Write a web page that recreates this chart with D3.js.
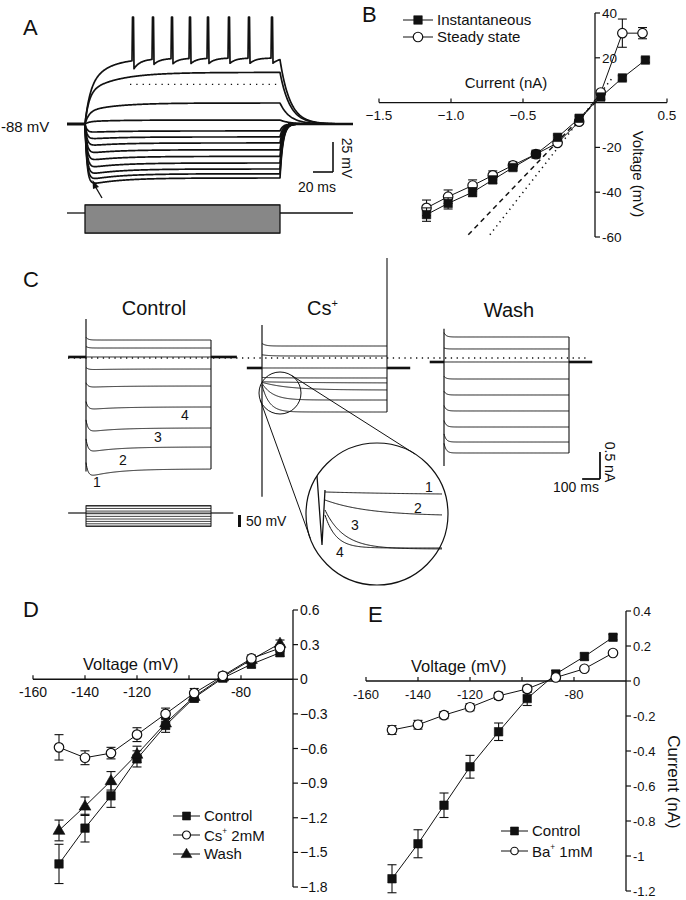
<!DOCTYPE html>
<html>
<head>
<meta charset="utf-8">
<script src="https://cdn.jsdelivr.net/npm/d3@7"></script>
<style>
  body { margin: 0; background: #fff; }
  svg { display: block; font-family: "Liberation Sans", Arial, Helvetica, sans-serif; }
  .ink { stroke: #111; fill: none; }
  text { fill: #111; }
</style>
</head>
<body>
<svg id="fig" width="686" height="900"></svg>
<script>
// ── Panel A: current-clamp steps ─────────────────────────────────────────
const aRestMv = -88;
const aPulseMs = 195;
const aStepMv = [-45, -70.5, -84.7, -93.8, -98.8, -103.8, -109.5, -115, -120.5, -125.5, -129.5, -133];
const aSagMv = [0, 0, 0, 1, 1.5, 2, 2.5, 3, 3.5, 4, 4.5, 5];
const aPlateauMv = -33;
const aSpikeMs = [48, 68, 87, 105, 123, 144, 164, 187];
const aAhpMv = [8, 5, 5, 5, 5, 5, 5, 5];
const aSpikePeakMv = 1;
const aDottedMv = -55;
const aCmdNa = [0.4, 0.3, 0.2, 0.1, -0.1, -0.2, -0.3, -0.4, -0.5, -0.6, -0.7, -0.8, -0.9, -1.0];

// ── Panel B: V–I relation ────────────────────────────────────────────────
const bInstNa = [-1.17, -1.02, -0.85, -0.71, -0.57, -0.41, -0.26, -0.11, 0.04, 0.19, 0.35];
const bInstMv = [-50, -45, -40, -34.5, -29, -23, -15.5, -7, 2.5, 11, 19];
const bInstErr = [3, 2.5, 2, 1.5, 1.2, 1, 1, 1, 1, 1, 1];
const bSteadyNa = [-1.17, -1.02, -0.85, -0.71, -0.57, -0.41, -0.26, -0.11, 0.04, 0.19, 0.33];
const bSteadyMv = [-47, -42, -37, -32.5, -28, -23, -18, -8.5, 4.5, 31, 31];
const bSteadyErr = [3.5, 3, 2.5, 2, 1.5, 1, 1, 1, 1, 6.3, 2.5];
const bDashed = [[-0.88, -59], [0.06, 4]];
const bDotted = [[-0.73, -59], [0.12, 11]];
const bXTicks = [-1.5, -1.0, -0.5, 0.5];
const bYTicks = [40, 20, -20, -40, -60];

// ── Panel C: voltage-clamp currents ─────────────────────────────────────
const cHoldNa = [0.019, -0.185, -0.074];
const cCapTopNa = [0.72, 0.61, 0.54];
const cCapBottomNa = [-2.1, -2.57, -2.0];
const cCsOffSpikeNa = 1.85;
const cCtrlNa = [0.333, 0.185, 0.019, -0.204, -0.519, -0.907, -1.296, -1.648, -2.056];
const cCtrlHookNa = [0.05, 0.03, 0, 0.03, 0.06, 0.1, 0.15, 0.15, 0.12];
const cCtrlDipNa = [0, 0, 0, 0.01, 0.02, 0.04, 0.06, 0.08, 0.12];
const cCsNa = [0.222, 0.037, -0.185, -0.37, -0.463, -0.593, -0.778, -1.0];
const cCsStartNa = [0.27, 0.06, -0.185, -0.36, -0.44, -0.45, -0.47, -0.5];
const cCsTauMs = [20, 40, 50, 100, 300, 150, 60, 40];
const cWashNa = [0.389, 0.167, -0.074, -0.389, -0.685, -0.981, -1.278, -1.556, -1.759];
const cWashHookNa = [0.08, 0.02, 0, 0.05, 0.07, 0.1, 0.12, 0.15, 0.18];
const cCmdMv = [-65, -76, -87, -98, -109, -120, -130, -140, -150];
const cHoldMv = -95;
const cCtrlLabels = ["1", "2", "3", "4"];
const insetStartNa = [-0.45, -0.53, -0.63, -0.68];
const insetEndNa = [-0.48, -0.69, -1.02, -1.01];
const insetTauMs = [200, 80, 35, 20];

// ── Panels D and E: I–V relations ───────────────────────────────────────
const ivVoltsMv = [-150, -140, -130, -120, -109, -98, -87, -76, -65];
const ivXTicks = [-160, -140, -120, -100, -80];
const ivXLabels = [-160, -140, -120, -80];
const dControlNa = [-1.60, -1.29, -1.01, -0.69, -0.40, -0.16, 0.01, 0.13, 0.23];
const dControlErr = [0.17, 0.12, 0.10, 0.07, 0.06, 0.04, 0.03, 0.03, 0.03];
const dCsNa = [-0.59, -0.68, -0.64, -0.48, -0.30, -0.12, 0.03, 0.18, 0.27];
const dCsErr = [0.11, 0.06, 0.05, 0.06, 0.05, 0.04, 0.03, 0.03, 0.03];
const dWashNa = [-1.31, -1.10, -0.88, -0.65, -0.38, -0.15, 0.02, 0.17, 0.31];
const dWashErr = [0.09, 0.08, 0.08, 0.07, 0.05, 0.04, 0.03, 0.03, 0.03];
const dYTicks = [0.6, 0.3, 0, -0.3, -0.6, -0.9, -1.2, -1.5, -1.8];
const eControlNa = [-1.13, -0.93, -0.71, -0.49, -0.29, -0.10, 0.04, 0.14, 0.25];
const eControlErr = [0.08, 0.08, 0.07, 0.065, 0.05, 0.04, 0.02, 0.02, 0.015];
const eBaNa = [-0.28, -0.25, -0.195, -0.15, -0.085, -0.045, 0.02, 0.07, 0.16];
const eBaErr = [0.025, 0.025, 0.02, 0.02, 0.02, 0.02, 0.01, 0.01, 0.01];
const eYTicks = [0.4, 0.2, 0, -0.2, -0.4, -0.6, -0.8, -1, -1.2];

const svg = d3.select('#fig');
const ink = '#111';

function label(g, x, y, str, size, opts) {
  opts = opts || {};
  const t = g.append('text').attr('x', x).attr('y', y)
    .attr('font-size', size)
    .attr('text-anchor', opts.anchor || 'start')
    .text(str);
  if (opts.rotate) t.attr('transform', `rotate(90,${x},${y})`);
  if (opts.family) t.attr('font-family', opts.family);
  return t;
}

// label with a small superscript "+" after the first part
function supLabel(g, x, y, a, b, size, opts) {
  opts = opts || {};
  const t = g.append('text').attr('x', x).attr('y', y).attr('font-size', size)
    .attr('text-anchor', opts.anchor || 'start');
  if (opts.family) t.attr('font-family', opts.family);
  t.append('tspan').text(a);
  t.append('tspan').attr('font-size', size * 0.55).attr('dy', -size * 0.42).text('+');
  t.append('tspan').attr('dy', size * 0.42).text(b);
  return t;
}

function seg(g, x1, y1, x2, y2, w) {
  return g.append('line').attr('x1', x1).attr('y1', y1).attr('x2', x2).attr('y2', y2)
    .attr('stroke', ink).attr('stroke-width', w || 1);
}

// ═══════════════════════════ Panel A ══════════════════════════════════════
(function () {
  const g = svg.append('g');
  const x = d3.scaleLinear().domain([0, aPulseMs]).range([85, 280]);
  const y = d3.scaleLinear().domain([aRestMv, aRestMv + 25]).range([124, 94]);
  const line = d3.line().x(d => x(d[0])).y(d => y(d[1]));
  const times = d3.range(-18, 268.01, 0.5);

  function stepTrace(vss, sag) {
    const d = vss - aRestMv;
    const level = t => d > 0
      ? aRestMv + d * (1 - 0.6 * Math.exp(-t / 4) - 0.4 * Math.exp(-t / 30))
      : aRestMv + d * (1 - Math.exp(-t / 2)) - sag * (Math.exp(-t / 30) - Math.exp(-t / 2)) / 0.77;
    const vEnd = level(aPulseMs);
    return times.map(t => {
      if (t < 0) return [t, aRestMv];
      if (t <= aPulseMs) return [t, level(t)];
      return [t, aRestMv + (vEnd - aRestMv) * Math.exp(-(t - aPulseMs) / (d > 0 ? 10 : 3))];
    });
  }

  function spikeTrace() {
    const d = aPlateauMv - aRestMv;
    return times.map(t => {
      if (t < 0) return [t, aRestMv];
      const tt = Math.min(t, aPulseMs);
      let v = aRestMv + d * (1 - 0.55 * Math.exp(-tt / 5) - 0.45 * Math.exp(-tt / 20));
      aSpikeMs.forEach((ts, i) => { if (tt > ts) v -= aAhpMv[i] * Math.exp(-(tt - ts) / 6); });
      if (aSpikeMs.some(ts => Math.abs(t - ts) < 0.6)) v = aSpikePeakMv;
      if (t > aPulseMs) v = aRestMv + (v - aRestMv) * Math.exp(-(t - aPulseMs) / 10);
      return [t, v];
    });
  }

  const traces = [spikeTrace()].concat(aStepMv.map((v, i) => stepTrace(v, aSagMv[i])));
  g.selectAll('path.trace').data(traces).join('path')
    .attr('class', 'trace ink')
    .attr('stroke-width', 1.7)
    .attr('stroke-linejoin', 'round')
    .attr('d', line);

  // thick noisy holding segments
  seg(g, x(-18), y(aRestMv), x(0), y(aRestMv), 3);
  seg(g, x(aPulseMs + 8), y(aRestMv), x(268), y(aRestMv), 2.6);

  // dotted reference line
  seg(g, x(45), y(aDottedMv), x(192), y(aDottedMv), 1.3).attr('stroke-dasharray', '1.3 5');

  // command pulses
  const cy = d3.scaleLinear().domain([0, 0.4]).range([213, 205]);
  seg(g, x(-18), cy(0), x(0), cy(0), 1.3);
  seg(g, x(aPulseMs), cy(0), x(268), cy(0), 1.3);
  g.append('rect').attr('x', x(0)).attr('y', cy(0.4)).attr('width', x(aPulseMs) - x(0))
    .attr('height', cy(-1.0) - cy(0.4)).attr('class', 'ink').attr('stroke-width', 1.3);
  g.selectAll('line.cmd').data(aCmdNa.concat([0])).join('line')
    .attr('class', 'cmd').attr('stroke', ink).attr('stroke-width', 1.15)
    .attr('x1', x(0)).attr('x2', x(aPulseMs))
    .attr('y1', d => cy(d)).attr('y2', d => cy(d));

  // arrow to the sag
  seg(g, 102, 198, 95, 186, 1.3);
  g.append('path').attr('d', 'M92.5,180 L99,187 L93,189 Z').attr('fill', ink);

  // scale bar: 25 mV / 20 ms
  const sx = 333, sy = 172;
  seg(g, sx, sy, sx, sy - (y(aRestMv) - y(aRestMv + 25)), 1.6);
  seg(g, sx - (x(20) - x(0)), sy, sx, sy, 1.6);
  label(g, 342, 158, '25 mV', 14, { anchor: 'middle', rotate: true });
  label(g, 336, 192, '20 ms', 14, { anchor: 'end' });
  label(g, 1, 132, '-88 mV', 15);
  label(g, 23, 35, 'A', 22);
})();

// ═══════════════════════════ Panel B ══════════════════════════════════════
(function () {
  const g = svg.append('g');
  const x = d3.scaleLinear().domain([-1.5, 0.5]).range([379, 667]);
  const y = d3.scaleLinear().domain([-60, 40]).range([237, 13]);

  // axes
  seg(g, x(-1.5), y(0), x(0.5), y(0), 1.3);
  g.selectAll('line.xt').data(bXTicks).join('line').attr('class', 'xt')
    .attr('stroke', ink).attr('stroke-width', 1.2)
    .attr('x1', d => x(d)).attr('x2', d => x(d)).attr('y1', y(0)).attr('y2', y(0) - 4);
  g.selectAll('text.xl').data(bXTicks).join('text').attr('class', 'xl')
    .attr('x', d => x(d)).attr('y', y(0) + 17).attr('text-anchor', 'middle')
    .attr('font-size', 13.5).text(d => d3.format('.1f')(d));
  seg(g, x(0), y(40), x(0), y(-60), 1.3);
  g.selectAll('line.yt').data(bYTicks).join('line').attr('class', 'yt')
    .attr('stroke', ink).attr('stroke-width', 1.2)
    .attr('x1', x(0)).attr('x2', x(0) + 5).attr('y1', d => y(d)).attr('y2', d => y(d));
  g.selectAll('text.yl').data(bYTicks).join('text').attr('class', 'yl')
    .attr('x', x(0) + 7).attr('y', d => y(d) + 5).attr('font-size', 13.5).text(d => d);
  label(g, 506, 88, 'Current (nA)', 15, { anchor: 'middle' });
  label(g, 633, 174, 'Voltage (mV)', 15, { anchor: 'middle', rotate: true });

  // reference lines
  const rl = d3.line().x(d => x(d[0])).y(d => y(d[1]));
  g.append('path').datum(bDashed).attr('class', 'ink').attr('stroke-width', 1.5)
    .attr('stroke-dasharray', '5 4').attr('d', rl);
  g.append('path').datum(bDotted).attr('class', 'ink').attr('stroke-width', 1.5)
    .attr('stroke-dasharray', '1.3 4').attr('d', rl);

  drawSeries(g, bSteadyNa, bSteadyMv, bSteadyErr, x, y, 'circle', 9.5);
  drawSeries(g, bInstNa, bInstMv, bInstErr, x, y, 'square', 8.5);

  legendItem(g, 403, 433, 20, 'square', 8.5, 'Instantaneous', 15);
  legendItem(g, 403, 433, 37, 'circle', 9.5, 'Steady state', 15);
  label(g, 362, 22, 'B', 22);
})();

// ═══════════════════════════ Panel C ══════════════════════════════════════
(function () {
  const g = svg.append('g');
  const cT = d3.scaleLinear().domain([0, 700]).range([0, 125]);
  const cI = d3.scaleLinear().domain([0, 0.5]).range([358, 331]);
  const boxLeft = [86, 262, 444];
  const preMs = [100, 85, 80];
  const postMs = [145, 130, 130];
  const times = d3.range(0, 700.01, 2.5);

  function hookTrace(iss, hook, dip) {
    return times.map(t => [t, iss + hook * Math.exp(-t / 12)
      - dip * (Math.exp(-t / 150) - Math.exp(-t / 12)) / 0.74]);
  }
  function decayTrace(iss, i0, tau) {
    return times.map(t => [t, iss + (i0 - iss) * Math.exp(-t / tau)]);
  }

  const sets = [
    cCtrlNa.map((v, i) => hookTrace(v, cCtrlHookNa[i], cCtrlDipNa[i])),
    cCsNa.map((v, i) => decayTrace(v, cCsStartNa[i], cCsTauMs[i])),
    cWashNa.map((v, i) => hookTrace(v, cWashHookNa[i], 0))
  ];
  const levels = [cCtrlNa, cCsNa, cWashNa];

  sets.forEach((traces, k) => {
    const x0 = boxLeft[k];
    const line = d3.line().x(d => x0 + cT(d[0])).y(d => cI(d[1]));
    g.append('g').selectAll('path').data(traces).join('path')
      .attr('class', 'ink').attr('stroke-width', 1).attr('d', line);
    // onset capacitive transient
    seg(g, x0, cI(cCapTopNa[k]), x0, cI(cCapBottomNa[k]), 1.2);
    // offset edge
    const top = k === 1 ? cCsOffSpikeNa : d3.max(levels[k]);
    seg(g, x0 + cT(700), cI(top), x0 + cT(700), cI(d3.min(levels[k])), 1.1);
    // holding current
    seg(g, x0 - cT(preMs[k]), cI(cHoldNa[k]), x0, cI(cHoldNa[k]), 2.6);
    seg(g, x0 + cT(700), cI(cHoldNa[k]), x0 + cT(700 + postMs[k]), cI(cHoldNa[k]), 2.6);
  });

  // zero-current dotted line
  seg(g, 68, cI(0), 586, cI(0), 1.3).attr('stroke-dasharray', '1.3 4.5');

  // titles
  label(g, 154, 315, 'Control', 20, { anchor: 'middle' });
  supLabel(g, 307, 315, 'Cs', '', 20);
  label(g, 509, 317, 'Wash', 20, { anchor: 'middle' });

  // trace numbers (Control)
  const numPos = [[97, 487], [123, 465], [158, 442], [185, 420]];
  cCtrlLabels.forEach((s, i) => label(g, numPos[i][0], numPos[i][1], s, 14, { anchor: 'middle' }));

  // command protocol
  const cV = d3.scaleLinear().domain([cHoldMv, cHoldMv + 50]).range([513, 501]);
  const x0 = boxLeft[0];
  seg(g, x0 - cT(100), cV(cHoldMv), x0, cV(cHoldMv), 1.2);
  seg(g, x0 + cT(700), cV(cHoldMv), x0 + cT(825), cV(cHoldMv), 1.2);
  g.append('rect').attr('x', x0).attr('y', cV(d3.max(cCmdMv)))
    .attr('width', cT(700)).attr('height', cV(d3.min(cCmdMv)) - cV(d3.max(cCmdMv)))
    .attr('class', 'ink').attr('stroke-width', 1);
  g.selectAll('line.cmd').data(cCmdMv.concat([cHoldMv])).join('line').attr('class', 'cmd')
    .attr('stroke', ink).attr('stroke-width', 0.8)
    .attr('x1', x0).attr('x2', x0 + cT(700))
    .attr('y1', d => cV(d)).attr('y2', d => cV(d));
  g.append('rect').attr('x', 238).attr('y', cV(cHoldMv) + 2).attr('width', 3)
    .attr('height', cV(cHoldMv - 50) - cV(cHoldMv)).attr('fill', ink);
  label(g, 246, 526, '50 mV', 14);

  // scale bar 0.5 nA / 100 ms
  seg(g, 600, 479, 600, 479 - (cI(0) - cI(0.5)), 1.8);
  seg(g, 600 - cT(100), 479, 600, 479, 1.8);
  label(g, 605, 462, '0.5 nA', 14, { anchor: 'middle', rotate: true });
  label(g, 553, 492, '100 ms', 14);

  // magnifier circles and tangents
  const c1 = [280, 393], r1 = 21, c2 = [377, 514], r2 = 71;
  g.append('circle').attr('cx', c1[0]).attr('cy', c1[1]).attr('r', r1).attr('class', 'ink').attr('stroke-width', 1);
  g.append('circle').attr('cx', c2[0]).attr('cy', c2[1]).attr('r', r2).attr('fill', '#fff')
    .attr('stroke', ink).attr('stroke-width', 1.2);
  const dx = c2[0] - c1[0], dy = c2[1] - c1[1], dist = Math.hypot(dx, dy);
  const th = Math.atan2(dy, dx), al = Math.acos((r1 - r2) / dist);
  [th + al, th - al].forEach(p => {
    seg(g, c1[0] + r1 * Math.cos(p), c1[1] + r1 * Math.sin(p),
      c2[0] + r2 * Math.cos(p), c2[1] + r2 * Math.sin(p), 1);
  });

  // inset traces
  const iX = d3.scaleLinear().domain([0, 216]).range([325, 442]);
  const iY = d3.scaleLinear().domain([0, -1]).range([447, 547]);
  const iTimes = d3.range(0, 216.01, 1.5);
  const insetTraces = insetStartNa.map((s, i) =>
    iTimes.map(t => [t, insetEndNa[i] + (s - insetEndNa[i]) * Math.exp(-t / insetTauMs[i])]));
  g.append('g').selectAll('path').data(insetTraces).join('path')
    .attr('class', 'ink').attr('stroke-width', 1)
    .attr('d', d3.line().x(d => iX(d[0])).y(d => iY(d[1])));
  g.append('path').attr('d', 'M317,476 L322,545 L325,490').attr('class', 'ink').attr('stroke-width', 1.3);
  const insetNum = [[429, 492], [418, 513], [355, 530], [340, 557]];
  insetNum.forEach((p, i) => label(g, p[0], p[1], String(i + 1), 14, { anchor: 'middle' }));

  label(g, 23, 287, 'C', 22);
})();

// ═══════════════════════════ shared IV helpers ═══════════════════════════
function marker(g, kind, cx, cy, s) {
  const type = kind === 'square' ? d3.symbolSquare : kind === 'circle' ? d3.symbolCircle : d3.symbolTriangle;
  const area = kind === 'square' ? s * s : kind === 'circle' ? Math.PI * s * s / 4 : s * s * 0.5;
  g.append('path').attr('d', d3.symbol(type, area)())
    .attr('transform', `translate(${cx},${cy + (kind === 'triangle' ? 0.5 : 0)})`)
    .attr('fill', kind === 'circle' ? '#fff' : ink)
    .attr('stroke', ink).attr('stroke-width', kind === 'circle' ? 1.2 : 0.6);
}

function drawSeries(g, xs, ys, errs, sx, sy, kind, size) {
  const pts = xs.map((v, i) => [sx(v), sy(ys[i])]);
  g.append('path').datum(pts).attr('class', 'ink').attr('stroke-width', 1).attr('d', d3.line());
  xs.forEach((v, i) => {
    const px = sx(v), hi = sy(ys[i] + errs[i]), lo = sy(ys[i] - errs[i]);
    seg(g, px, hi, px, lo, 1.1);
    seg(g, px - 4.5, hi, px + 4.5, hi, 1.1);
    seg(g, px - 4.5, lo, px + 4.5, lo, 1.1);
  });
  pts.forEach(p => marker(g, kind, p[0], p[1], size));
}

function legendItem(g, x1, x2, y, kind, size, text, fs, family) {
  seg(g, x1, y, x2, y, 1);
  marker(g, kind, (x1 + x2) / 2, y, size);
  const t = label(g, x2 + 4, y + fs * 0.36, text, fs, { family: family });
  return t;
}

function ivAxes(g, x, y, yTicks, fs, fmt) {
  seg(g, x(-160), y(0), x(-60), y(0), 1.3);
  g.selectAll('line.xt').data(ivXTicks).join('line').attr('class', 'xt')
    .attr('stroke', ink).attr('stroke-width', 1.2)
    .attr('x1', d => x(d)).attr('x2', d => x(d)).attr('y1', y(0)).attr('y2', y(0) - 4);
  g.selectAll('text.xl').data(ivXLabels).join('text').attr('class', 'xl')
    .attr('x', d => x(d)).attr('y', y(0) + 18).attr('text-anchor', 'middle')
    .attr('font-size', fs).text(d => d);
  const yd = y.domain();
  seg(g, x(-60), y(yd[1]), x(-60), y(yd[0]), 1.3);
  g.selectAll('line.yt').data(yTicks).join('line').attr('class', 'yt')
    .attr('stroke', ink).attr('stroke-width', 1.2)
    .attr('x1', x(-60)).attr('x2', x(-60) + 5).attr('y1', d => y(d)).attr('y2', d => y(d));
  g.selectAll('text.yl').data(yTicks).join('text').attr('class', 'yl')
    .attr('x', x(-60) + 7).attr('y', d => y(d) + 5).attr('font-size', fs).text(fmt);
}

// ═══════════════════════════ Panel D ══════════════════════════════════════
(function () {
  const g = svg.append('g');
  const x = d3.scaleLinear().domain([-160, -60]).range([33, 293]);
  const y = d3.scaleLinear().domain([-1.8, 0.6]).range([887, 610]);
  ivAxes(g, x, y, dYTicks, 14, d => d === 0 ? '0' : d3.format('.1f')(d));
  label(g, 83, 670, 'Voltage (mV)', 16.5);
  drawSeries(g, ivVoltsMv, dControlNa, dControlErr, x, y, 'square', 8.5);
  drawSeries(g, ivVoltsMv, dWashNa, dWashErr, x, y, 'triangle', 11);
  drawSeries(g, ivVoltsMv, dCsNa, dCsErr, x, y, 'circle', 9.5);

  legendItem(g, 173, 200, 816, 'square', 8, 'Control', 15);
  seg(g, 173, 835, 200, 835, 1);
  marker(g, 'circle', 186.5, 835, 8);
  supLabel(g, 204, 840.5, 'Cs', ' 2mM', 15);
  legendItem(g, 173, 200, 854, 'triangle', 10, 'Wash', 15);
  label(g, 23, 617, 'D', 22);
})();

// ═══════════════════════════ Panel E ══════════════════════════════════════
(function () {
  const g = svg.append('g');
  const x = d3.scaleLinear().domain([-160, -60]).range([366, 626]);
  const y = d3.scaleLinear().domain([-1.2, 0.4]).range([891, 611]);
  ivAxes(g, x, y, eYTicks, 13, d => String(d));
  label(g, 411, 672, 'Voltage (mV)', 16.5);
  label(g, 668, 782, 'Current (nA)', 17, { anchor: 'middle', rotate: true });
  drawSeries(g, ivVoltsMv, eControlNa, eControlErr, x, y, 'square', 8.5);
  drawSeries(g, ivVoltsMv, eBaNa, eBaErr, x, y, 'circle', 9.5);

  const narrow = '"Liberation Sans Narrow", "Arial Narrow", "Liberation Sans", sans-serif';
  legendItem(g, 501, 528, 831, 'square', 8, 'Control', 15, narrow);
  seg(g, 501, 851, 528, 851, 1);
  marker(g, 'circle', 514.5, 851, 7.5);
  supLabel(g, 532, 856.5, 'Ba', ' 1mM', 15, { family: narrow });
  label(g, 368, 622, 'E', 22);
})();
</script>
</body>
</html>
